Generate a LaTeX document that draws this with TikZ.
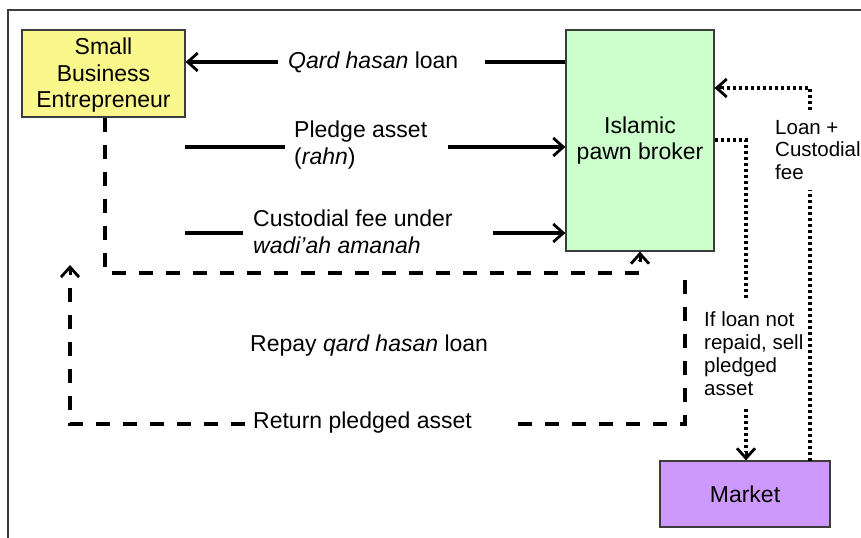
\documentclass[tikz,border=0pt]{standalone}
\usepackage{fontspec}
\setmainfont{Liberation Sans}
\usetikzlibrary{arrows.meta,calc}
\definecolor{sbeyellow}{RGB}{250,247,140}
\definecolor{brokergreen}{RGB}{204,255,204}
\definecolor{marketpurple}{RGB}{206,153,252}
\definecolor{boxline}{RGB}{60,60,60}
\tikzset{
  box/.style={draw=boxline, line width=1.3bp, inner sep=0pt, align=center},
  lbl/.style={inner sep=0pt, align=left, anchor=west},
  sidelbl/.style={inner sep=0pt, align=left, anchor=west, font=\fontsize{20.5bp}{23bp}\selectfont},
  tipshape/.style={-{Straight Barb[length=10bp,width=18bp,line width=2.8bp]}},
  flow/.style={line width=3.2bp, tipshape},
  flowline/.style={line width=3.2bp},
  dashflow/.style={line width=3.2bp, dash pattern=on 14bp off 13bp},
  dotflow/.style={line width=3.2bp, dash pattern=on 3bp off 3bp},
}
\begin{document}
\begin{tikzpicture}[x=1bp,y=-1bp,font=\fontsize{23bp}{26.5bp}\selectfont]
\useasboundingbox (0,0) rectangle (861,538);
% outer frame (partly cut)
\draw[boxline, line width=1.2bp] (8,540) -- (8,10) -- (863,10);

% main boxes
\node[box, fill=sbeyellow, minimum width=163bp, minimum height=87bp] (sbe) at (103.5,73.5) {};
\node[inner sep=0pt, align=center] (sbetext) at ([yshift=-2bp]sbe.center) {Small\\Business\\Entrepreneur};
\node[box, fill=brokergreen, minimum width=148bp, minimum height=221bp] (broker) at (640,140.5) {Islamic\\pawn broker};
\node[box, fill=marketpurple, minimum width=170bp, minimum height=66bp] (market) at (745,494) {Market};

% labels
\node[lbl] (qlab) at (288,62) {\textit{Qard hasan} loan};
\node[lbl, font=\fontsize{23bp}{27bp}\selectfont] (plab) at (294,145) {Pledge asset\\(\textit{rahn})};
\node[lbl, font=\fontsize{23bp}{27bp}\selectfont] (clab) at (253,232) {Custodial fee under\\\textit{wadi'ah amanah}};
\node[lbl] (rlab) at (250,346) {Repay \textit{qard hasan} loan};
\node[lbl] (retlab) at (253,423) {Return pledged asset};
\node[sidelbl] (slab) at (704,354) {If loan not\\repaid, sell\\pledged\\asset};
\node[sidelbl, font=\fontsize{20.5bp}{22.5bp}\selectfont] (llab) at (775,150) {Loan +\\Custodial\\fee};

% coordinates for free ends
\coordinate (q1) at (485,62);
\coordinate (q2) at (278,62);
\coordinate (p1) at (185,147);
\coordinate (p2) at (285,147);
\coordinate (p3) at (448,147);
\coordinate (c1) at (185,233);
\coordinate (c2) at (243,233);
\coordinate (c3) at (493,233);
\coordinate (d1) at (105,273);
\coordinate (d2) at (640,273);
\coordinate (e1) at (685,280);
\coordinate (e2) at (685,424);
\coordinate (e3) at (518,424);
\coordinate (e4) at (245,424);
\coordinate (e5) at (70,424);
\coordinate (e6) at (70,265);
\coordinate (s1) at (746,140);
\coordinate (s2) at (746,300);
\coordinate (s3) at (746,409);
\coordinate (l1) at (810,461);
\coordinate (l2) at (810,190);
\coordinate (l3) at (810,110);
\coordinate (l4) at (810,88);

% Qard hasan loan
\draw[flowline] (broker.west |- q1) -- (q1);
\draw[flow] (q2) -- (sbe.east |- q2);
% Pledge asset
\draw[flowline] (p1) -- (p2);
\draw[flow] (p3) -- (broker.west |- p3);
% Custodial fee
\draw[flowline] (c1) -- (c2);
\draw[flow] (c3) -- (broker.west |- c3);
% Repay qard hasan loan
\draw[dashflow] (sbe.south -| d1) -- (d1) -- (d2) -- ([yshift=-8bp]broker.south);
\draw[line width=3bp, tipshape] ([yshift=-10bp]broker.south) -- (broker.south);
% Return pledged asset
\draw[dashflow] (e1) -- (e2) -- (e3);
\draw[dashflow] (e4) -- (e5) -- ([yshift=-10bp]e6);
\draw[line width=3bp, tipshape] ([yshift=-10bp]e6) -- (e6);
% If loan not repaid
\draw[dotflow] (broker.east |- s1) -- (s1) -- (s2);
\draw[dotflow] (s3) -- ([yshift=8bp]market.north -| s3);
\draw[line width=3bp, tipshape] ([yshift=9bp]market.north -| s3) -- (market.north -| s3);
% Loan + custodial fee
\draw[dotflow] (l1) -- (l2);
\draw[dotflow] (l3) -- (l4) -- ([xshift=8bp]broker.east |- l4);
\draw[line width=3bp, tipshape] ([xshift=9bp]broker.east |- l4) -- (broker.east |- l4);
\end{tikzpicture}
\end{document}
